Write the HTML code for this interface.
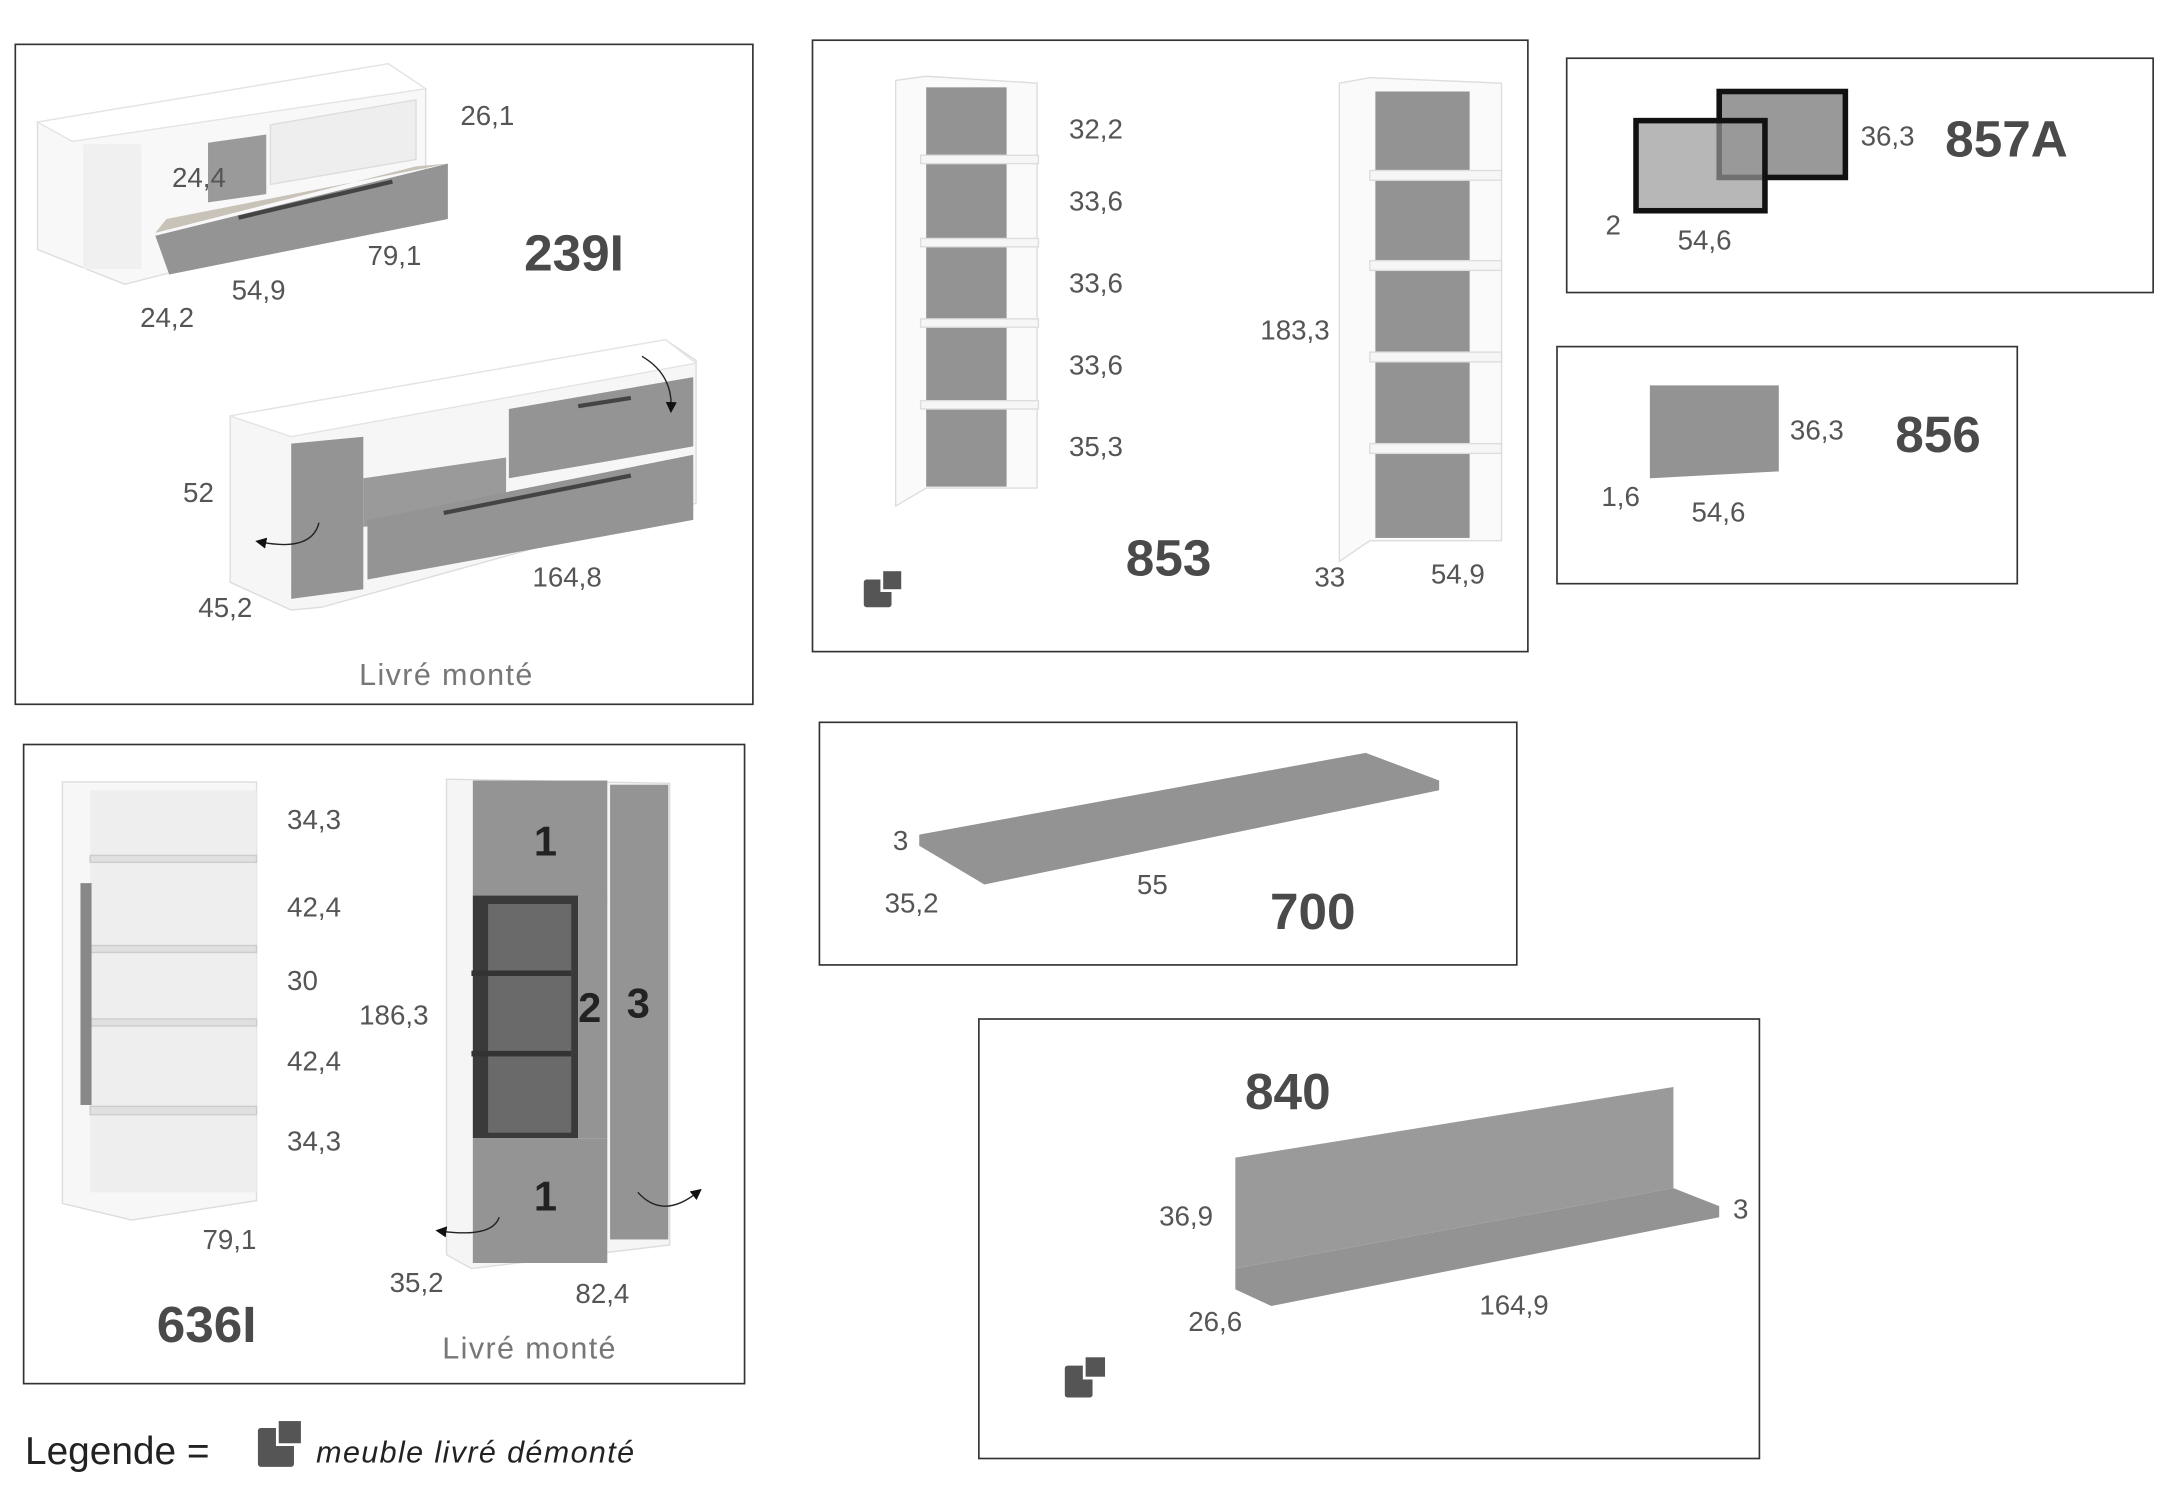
<!DOCTYPE html>
<html><head><meta charset="utf-8"><style>
html,body{margin:0;padding:0;background:#fff;}
svg{display:block;}
text{font-family:"Liberation Sans",sans-serif;fill:#555;}
.d{font-size:20px;}
.t{font-size:37px;font-weight:bold;fill:#4a4a4a;}
</style></head><body>
<svg width="2174" height="1489" viewBox="0 0 1568 1074" xmlns="http://www.w3.org/2000/svg">
<defs><marker id="ah" markerWidth="8" markerHeight="8" refX="4" refY="4" orient="auto"><path d="M0,0 L8,4 L0,8z" fill="#111"/></marker></defs>
<g fill="none" stroke="#333" stroke-width="1.2">
<rect x="11" y="32" width="532" height="476"/>
<rect x="586" y="29" width="516" height="441"/>
<rect x="1130" y="42" width="423" height="169"/>
<rect x="1123" y="250" width="332" height="171"/>
<rect x="17" y="537" width="520" height="461"/>
<rect x="591" y="521" width="503" height="175"/>
<rect x="706" y="735" width="563" height="317"/>
</g>

<!-- 239I top -->
<polygon points="27,88 280,46 307,64 307,150 90,205 27,180" fill="#f8f8f8" stroke="#ddd"/>
<polygon points="27,88 280,46 307,64 52,102" fill="#fff" stroke="#e4e4e4"/>
<rect x="60" y="104" width="42" height="90" fill="#f0f0f0"/>
<polygon points="150,103 192,97 192,140 150,146" fill="#9a9a9a"/>
<polygon points="195,90 300,72 300,115 195,133" fill="#eee" stroke="#ddd"/>
<polygon points="112,168 300,120 323,118 120,158" fill="#c8c2b8"/>
<polygon points="112,170 323,118 323,158 122,198" fill="#949494"/>
<line x1="172" y1="157" x2="283" y2="131" stroke="#444" stroke-width="3"/>
<!-- 239I bottom -->
<polygon points="166,300 480,245 502,260 502,363 232,438 210,440 166,420" fill="#f6f6f6" stroke="#ddd"/>
<polygon points="166,300 480,245 502,262 210,315" fill="#fff" stroke="#e4e4e4"/>
<polygon points="210,320 262,315 262,425 210,432" fill="#949494"/>
<polygon points="262,345 365,330 365,370 262,380" fill="#9a9a9a"/>
<polygon points="367,295 500,272 500,322 367,345" fill="#949494"/>
<polygon points="265,375 500,328 500,375 265,418" fill="#949494"/>
<line x1="417" y1="293" x2="455" y2="287" stroke="#444" stroke-width="3"/>
<line x1="320" y1="370" x2="455" y2="343" stroke="#444" stroke-width="3"/>
<path d="M230,377 Q225,398 188,391" stroke="#222" fill="none" marker-end="url(#ah)"/>
<path d="M463,257 Q485,270 484,294" stroke="#222" fill="none" marker-end="url(#ah)"/>
<text x="332" y="90" class="d">26,1</text>
<text x="124" y="135" class="d">24,4</text>
<text x="265" y="191" class="d">79,1</text>
<text x="167" y="216" class="d">54,9</text>
<text x="101" y="236" class="d">24,2</text>
<text x="378" y="195" class="t">239I</text>
<text x="132" y="362" class="d">52</text>
<text x="143" y="445" class="d">45,2</text>
<text x="384" y="423" class="d">164,8</text>
<text x="259" y="494" style="font-size:22px;fill:#777;letter-spacing:1px">Livré monté</text>

<!-- 853 -->
<polygon points="646,58 668,55 748,60 748,352 668,352 646,365" fill="#fafafa" stroke="#ddd"/>
<rect x="668" y="63" width="58" height="288" fill="#939393"/>
<g fill="#f6f6f6" stroke="#ddd"><rect x="664" y="112" width="85" height="6"/><rect x="664" y="172" width="85" height="6"/><rect x="664" y="230" width="85" height="6"/><rect x="664" y="289" width="85" height="6"/></g>
<polygon points="966,60 988,56 1083,60 1083,390 988,390 966,405" fill="#fafafa" stroke="#ddd"/>
<rect x="992" y="66" width="68" height="322" fill="#939393"/>
<g fill="#f6f6f6" stroke="#ddd"><rect x="988" y="123" width="95" height="7"/><rect x="988" y="188" width="95" height="7"/><rect x="988" y="254" width="95" height="7"/><rect x="988" y="320" width="95" height="7"/></g>
<text x="771" y="100" class="d">32,2</text>
<text x="771" y="152" class="d">33,6</text>
<text x="771" y="211" class="d">33,6</text>
<text x="771" y="270" class="d">33,6</text>
<text x="771" y="329" class="d">35,3</text>
<text x="909" y="245" class="d">183,3</text>
<text x="948" y="423" class="d">33</text>
<text x="1032" y="421" class="d">54,9</text>
<text x="812" y="415" class="t">853</text>
<rect x="623" y="418" width="20" height="20" rx="2" fill="#555"/><rect x="636" y="411" width="15" height="15" fill="#555" stroke="#fff" stroke-width="2"/>

<!-- 857A -->
<rect x="1240" y="66" width="91" height="62" fill="#999" stroke="#111" stroke-width="4"/>
<rect x="1180" y="87" width="93" height="65" fill="#999" stroke="#111" stroke-width="4" fill-opacity="0.7"/>
<text x="1342" y="105" class="d">36,3</text>
<text x="1158" y="169" class="d">2</text>
<text x="1210" y="180" class="d">54,6</text>
<text x="1403" y="113" class="t">857A</text>
<!-- 856 -->
<polygon points="1190,278 1283,278 1283,340 1190,345" fill="#939393"/>
<text x="1291" y="317" class="d">36,3</text>
<text x="1155" y="365" class="d">1,6</text>
<text x="1220" y="376" class="d">54,6</text>
<text x="1367" y="326" class="t">856</text>

<!-- 636I -->
<polygon points="45,564 185,564 185,866 95,880 45,868" fill="#f7f7f7" stroke="#ddd"/>
<rect x="65" y="570" width="120" height="290" fill="#eee"/>
<g fill="#e0e0e0" stroke="#ccc"><rect x="65" y="617" width="120" height="5"/><rect x="65" y="682" width="120" height="5"/><rect x="65" y="735" width="120" height="5"/><rect x="65" y="798" width="120" height="6"/></g>
<rect x="58" y="637" width="8" height="160" fill="#888"/>
<text x="207" y="598" class="d">34,3</text>
<text x="207" y="661" class="d">42,4</text>
<text x="207" y="714" class="d">30</text>
<text x="207" y="772" class="d">42,4</text>
<text x="207" y="830" class="d">34,3</text>
<text x="146" y="901" class="d">79,1</text>
<text x="113" y="968" class="t">636I</text>
<polygon points="322,562 483,565 483,898 340,915 322,905" fill="#f5f5f5" stroke="#ddd"/>
<rect x="341" y="563" width="97" height="84" fill="#949494"/>
<rect x="341" y="646" width="76" height="175" fill="#3a3a3a"/>
<rect x="352" y="652" width="60" height="165" fill="#6a6a6a"/>
<rect x="340" y="700" width="72" height="4" fill="#333"/>
<rect x="340" y="758" width="72" height="4" fill="#333"/>
<rect x="417" y="646" width="21" height="175" fill="#949494"/>
<rect x="341" y="821" width="97" height="90" fill="#949494"/>
<rect x="440" y="566" width="42" height="328" fill="#949494"/>
<text x="385" y="617" style="font-size:30px;font-weight:bold;fill:#222">1</text>
<text x="417" y="737" style="font-size:30px;font-weight:bold;fill:#222">2</text>
<text x="452" y="734" style="font-size:30px;font-weight:bold;fill:#222">3</text>
<text x="385" y="873" style="font-size:30px;font-weight:bold;fill:#222">1</text>
<path d="M360,878 Q355,893 318,888" stroke="#222" fill="none" marker-end="url(#ah)"/>
<path d="M460,860 Q478,880 503,860" stroke="#222" fill="none" marker-end="url(#ah)"/>
<text x="259" y="739" class="d">186,3</text>
<text x="281" y="932" class="d">35,2</text>
<text x="415" y="940" class="d">82,4</text>
<text x="319" y="980" style="font-size:22px;fill:#777;letter-spacing:1px">Livré monté</text>

<!-- 700 -->
<polygon points="663,602 985,543 1038,563 1038,570 710,638 663,610" fill="#939393"/>
<text x="644" y="613" class="d">3</text>
<text x="638" y="658" class="d">35,2</text>
<text x="820" y="645" class="d">55</text>
<text x="916" y="670" class="t">700</text>

<!-- 840 -->
<polygon points="891,835 1207,784 1207,857 891,915" fill="#9a9a9a"/>
<polygon points="891,915 1207,857 1240,870 1240,878 917,942 891,930" fill="#939393"/>
<text x="898" y="800" class="t">840</text>
<text x="836" y="884" class="d">36,9</text>
<text x="1250" y="879" class="d">3</text>
<text x="857" y="960" class="d">26,6</text>
<text x="1067" y="948" class="d">164,9</text>
<rect x="768" y="985" width="20" height="23" rx="2" fill="#555"/><rect x="782" y="978" width="16" height="16" fill="#555" stroke="#fff" stroke-width="2"/>

<!-- Legend -->
<text x="18" y="1056" style="font-size:28px;fill:#222">Legende =</text>
<rect x="186" y="1030" width="26" height="28" rx="2" fill="#555"/><rect x="200" y="1024" width="18" height="18" fill="#555" stroke="#fff" stroke-width="2"/>
<text x="228" y="1055" style="font-size:22px;font-style:italic;fill:#222;letter-spacing:1px">meuble livré démonté</text>
</svg>
</body></html>
